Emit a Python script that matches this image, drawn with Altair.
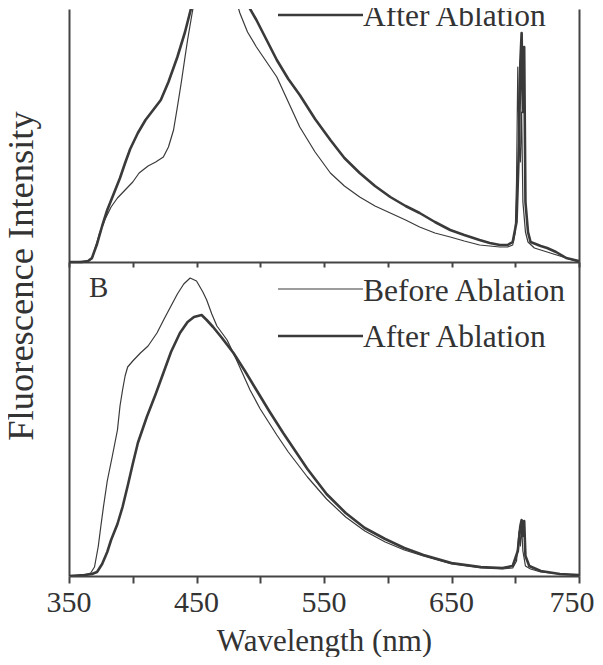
import altair as alt
import pandas as pd

# ---------------- data (arbitrary intensity units) ----------------
# Panel A (top)
a_after_wl = [350, 360, 365, 368, 372, 376, 380, 385, 390, 394, 398, 404, 410, 416, 422, 428, 435, 441, 446,
              452, 460, 470, 480, 488, 497, 505, 513, 522, 531, 543, 555, 566, 578, 590, 602, 614, 625, 637,
              649, 660, 672, 680, 688, 694, 698, 701, 703, 704, 705, 706, 707, 708, 710, 712, 720, 725, 732, 740, 750]
a_after_val = [0, 0, 1, 4, 18, 36, 52, 68, 84, 99, 113, 129, 142, 152, 162, 180, 205, 230, 255,
               285, 310, 318, 290, 262, 242, 222, 202, 183, 167, 143, 122, 104, 89, 76, 65, 56, 49, 40,
               32, 27, 22, 19, 17, 17, 20, 40, 120, 200, 229, 150, 215, 60, 30, 20, 16, 14, 10, 4, 1]

a_before_wl = [350, 365, 368, 372, 374, 378, 383, 388, 394, 400, 405, 412, 418, 424, 428, 432, 435, 438, 441,
               443, 447, 452, 460, 470, 478, 484, 490, 497, 505, 513, 522, 531, 543, 555, 566, 578, 590, 602,
               614, 625, 637, 649, 660, 672, 680, 688, 694, 698, 700, 701, 702, 703, 704, 705, 706, 708, 710,
               715, 725, 735, 742, 750]
a_before_val = [0, 1, 3, 20, 29, 42, 55, 64, 72, 80, 89, 96, 100, 105, 115, 132, 155, 179, 205,
                222, 252, 280, 300, 300, 275, 249, 230, 215, 200, 185, 160, 135, 110, 89, 76, 65, 56, 49,
                42, 35, 29, 25, 21, 17, 16, 15, 15, 17, 30, 80, 195, 120, 100, 150, 60, 30, 20,
                14, 10, 6, 3, 0]

# Panel B (bottom)
b_before_wl = [350, 362, 367, 370, 373, 375, 377, 380, 384, 388, 390, 392, 394, 396, 400, 406, 412, 419, 425,
               430, 435, 440, 445, 450, 455, 458, 462, 466, 470, 474, 480, 486, 492, 500, 507, 513, 522, 537,
               552, 567, 582, 598, 613, 628, 650, 673, 690, 698, 701, 703, 704, 705, 706, 708, 712, 720, 735, 750]
b_before_val = [0, 1, 3, 9, 30, 50, 69, 95, 120, 146, 170, 186, 200, 209, 215, 223, 230, 243, 258,
                270, 282, 292, 298, 295, 284, 276, 262, 250, 243, 236, 220, 203, 186, 167, 153, 141, 124, 99,
                77, 59, 45, 34, 26, 20, 12, 8, 7, 8, 15, 45, 30, 48, 25, 10, 7, 4, 2, 1]

b_after_wl = [350, 362, 368, 372, 376, 380, 383, 388, 392, 396, 400, 404, 411, 418, 424, 430, 437, 443, 448,
              454, 458, 463, 470, 479, 488, 497, 507, 518, 537, 552, 567, 582, 598, 613, 628, 650, 673, 690,
              698, 702, 704, 705, 706, 707, 708, 711, 720, 735, 750]
b_after_val = [0, 1, 2, 4, 12, 24, 36, 52, 69, 90, 112, 133, 159, 182, 203, 224, 243, 254, 259,
               261, 256, 249, 238, 223, 205, 186, 165, 143, 107, 82, 63, 48, 37, 28, 21, 13, 9, 8,
               10, 25, 50, 56, 40, 55, 20, 10, 5, 2, 1]

x_ticks = [350, 400, 450, 500, 550, 600, 650, 700, 750]
x_labels = [350, 450, 550, 650]
x_last_label = [750]

# ---------------- layout constants ----------------
PANEL_B = 314          # height (in intensity units) of bottom panel
PANEL_A = 253          # height of top panel
W, H = 510, PANEL_A + PANEL_B
INK = "#3a3a3a"
TXT = "#333333"
FONT = "'Liberation Serif', 'Times New Roman', 'DejaVu Serif', serif"

rows = []
for panel, series, wl, val in [
    ("A", "Before Ablation", a_before_wl, a_before_val),
    ("A", "After Ablation", a_after_wl, a_after_val),
    ("B", "Before Ablation", b_before_wl, b_before_val),
    ("B", "After Ablation", b_after_wl, b_after_val),
]:
    for w, v in zip(wl, val):
        rows.append({"panel": panel, "series": series, "wl": w, "val": v})
df = pd.DataFrame(rows)

xscale = alt.Scale(domain=[350, 750], nice=False, zero=False)
yscale = alt.Scale(domain=[0, H], nice=False, zero=False)

lines = alt.Chart(df).transform_calculate(
    yy=f"datum.panel == 'A' ? datum.val + {PANEL_B} : datum.val",
    key="datum.panel + datum.series",
).mark_line(clip=True, color=INK, strokeJoin="round").encode(
    x=alt.X("wl:Q", scale=xscale, axis=alt.Axis(
        title=None, labels=False, values=x_ticks, grid=False,
        tickSize=7, tickWidth=2, tickColor="#444", domainColor="#444", domainWidth=2)),
    y=alt.Y("yy:Q", scale=yscale, axis=alt.Axis(
        title=None, ticks=False, labels=False, grid=False,
        domainColor="#444", domainWidth=2)),
    detail="key:N",
    strokeWidth=alt.StrokeWidth("series:N", scale=alt.Scale(
        domain=["Before Ablation", "After Ablation"], range=[1.2, 2.6]), legend=None),
)

frame = alt.Chart(df).mark_point(opacity=0).encode(
    x=alt.X("wl:Q", scale=xscale, axis=alt.Axis(
        orient="bottom", offset=-PANEL_B, values=x_ticks, labels=False, title=None, grid=False,
        tickSize=5, tickWidth=2, tickColor="#444", domainColor="#444", domainWidth=2)),
    y=alt.Y("val:Q", scale=yscale, axis=alt.Axis(
        orient="right", ticks=False, labels=False, title=None, grid=False,
        domainColor="#444", domainWidth=2)),
)

# tick labels drawn as text marks through the x scale
def tick_labels(vals, dx=0):
    return alt.Chart(pd.DataFrame({"v": vals})).mark_text(
        font=FONT, fontSize=30, color=TXT, align="center", baseline="alphabetic", dx=dx
    ).encode(x=alt.X("v:Q", scale=xscale, axis=None), y=alt.value(603), text="v:Q")

def label(txt, x, y, size=31.5, angle=0, align="left"):
    return alt.Chart(pd.DataFrame({"t": [txt]})).mark_text(
        font=FONT, fontSize=size, color=TXT, align=align, baseline="alphabetic", angle=angle
    ).encode(text="t:N", x=alt.value(x), y=alt.value(y))

def legline(y, w):
    return alt.Chart(pd.DataFrame({"t": [0]})).mark_rule(color=INK, strokeWidth=w).encode(
        x=alt.value(209), x2=alt.value(294), y=alt.value(y))

chart = alt.layer(
    lines, frame,
    tick_labels(x_labels), tick_labels(x_last_label, dx=-7),
    label("Wavelength (nm)", 255.5, 642, 31, align="center"),
    label("Fluorescence Intensity", -36, 267, 36.5, angle=270, align="center"),
    legline(6, 2.4), label("After Ablation", 294, 16.5),
    label("B", 20, 288, 29),
    legline(280, 1.2), label("Before Ablation", 294, 292),
    legline(327, 2.4), label("After Ablation", 294, 338),
).resolve_axis(x="independent", y="independent").properties(
    width=W, height=H,
    autosize=alt.AutoSizeParams(type="none"),
    padding={"left": 61, "top": 1, "right": 16, "bottom": 81},
).configure(background="white").configure_view(stroke=None)

chart.save("out.html", embed_options={"renderer": "svg", "actions": False})
